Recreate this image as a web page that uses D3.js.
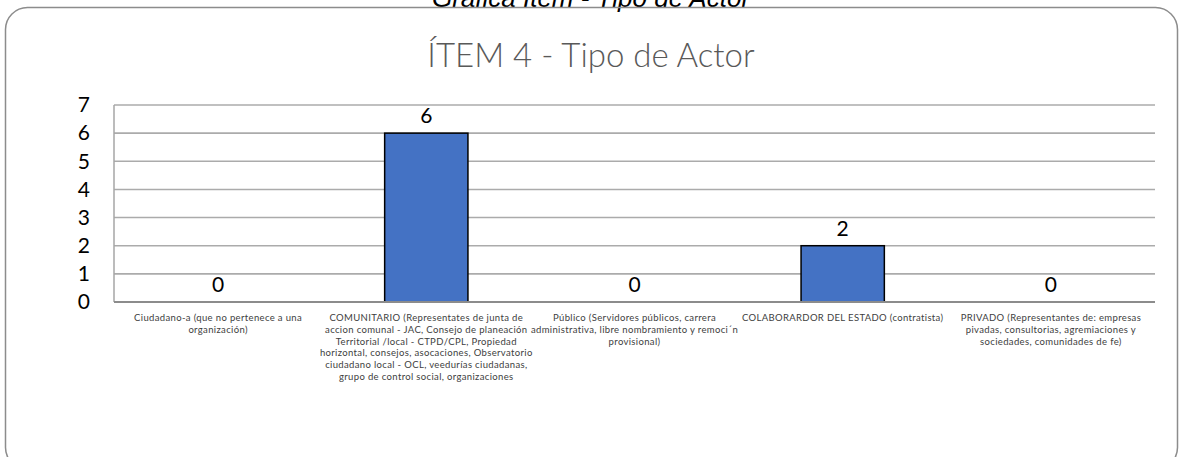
<!DOCTYPE html>
<html>
<head>
<meta charset="utf-8">
<script src="https://cdn.jsdelivr.net/npm/d3@7/dist/d3.min.js"></script>
<style>
  html, body { margin: 0; padding: 0; background: #fff; }
  svg { display: block; }
</style>
</head>
<body>
<script>
// Chart data
const categories = [
  "Ciudadano-a",
  "COMUNITARIO",
  "Público",
  "COLABORARDOR DEL ESTADO",
  "PRIVADO"
];
const categoryLabels = [
  ["Ciudadano-a (que no pertenece a una", "organización)"],
  ["COMUNITARIO (Representates de junta de", "accion comunal - JAC, Consejo de planeación",
   "Territorial /local - CTPD/CPL, Propiedad", "horizontal, consejos, asocaciones, Observatorio",
   "ciudadano local - OCL, veedurías ciudadanas,", "grupo de control social, organizaciones"],
  ["Público (Servidores públicos, carrera", "administrativa, libre nombramiento y remoci´n", "provisional)"],
  ["COLABORARDOR DEL ESTADO (contratista)"],
  ["PRIVADO (Representantes de: empresas", "pivadas, consultorias, agremiaciones y", "sociedades, comunidades de fe)"]
];
const values = [0, 6, 0, 2, 0];
const yTicks = [0, 1, 2, 3, 4, 5, 6, 7];
const chartTitle = "ÍTEM 4 - Tipo de Actor";
const captionText = "Gráfica Ítem - Tipo de Actor";

const W = 1183, H = 457;
const plot = { left: 114, right: 1155, top: 105, bottom: 302 };
const font = "Lato, 'Open Sans', sans-serif";

const svg = d3.select("body").append("svg")
  .attr("width", W).attr("height", H);

// Caption above the frame (runs off the top edge)
svg.append("text")
  .attr("x", 591).attr("y", 7)
  .attr("text-anchor", "middle")
  .attr("font-family", "'Liberation Sans', Arial, sans-serif")
  .attr("font-style", "italic")
  .attr("font-size", 26)
  .attr("fill", "#000")
  .text(captionText);

// Rounded chart frame
svg.append("rect")
  .attr("x", 5.5).attr("y", 7.5)
  .attr("width", 1172).attr("height", 462)
  .attr("rx", 22).attr("ry", 22)
  .attr("fill", "none")
  .attr("stroke", "#8c8c8c")
  .attr("stroke-width", 1.5);

// Title
svg.append("text")
  .attr("x", 591).attr("y", 67)
  .attr("text-anchor", "middle")
  .attr("font-family", font)
  .attr("font-weight", 300)
  .attr("font-size", 33)
  .attr("fill", "#595959")
  .text(chartTitle);

const x = d3.scaleBand()
  .domain(categories)
  .range([plot.left, plot.right])
  .paddingInner(0.6)
  .paddingOuter(0.3);

const y = d3.scaleLinear()
  .domain([0, 7])
  .range([plot.bottom, plot.top]);

// Horizontal gridlines
svg.append("g")
  .selectAll("line")
  .data(yTicks.filter(d => d > 0))
  .join("line")
  .attr("x1", plot.left).attr("x2", plot.right)
  .attr("y1", d => y(d)).attr("y2", d => y(d))
  .attr("stroke", "#ababab")
  .attr("stroke-width", 1.6);

// Vertical axis line
svg.append("line")
  .attr("x1", plot.left).attr("x2", plot.left)
  .attr("y1", y(7)).attr("y2", y(0))
  .attr("stroke", "#a6a6a6")
  .attr("stroke-width", 1.5);

// Y axis tick labels
const yAxis = svg.append("g")
  .attr("transform", `translate(${plot.left - 24},0)`)
  .call(d3.axisLeft(y).tickValues(yTicks).tickSize(0).tickPadding(0).tickFormat(d3.format("d")));
yAxis.select(".domain").remove();
yAxis.selectAll("text")
  .attr("font-family", font)
  .attr("font-size", 21)
  .attr("fill", "#000");

// Bars
svg.append("g")
  .selectAll("rect")
  .data(values)
  .join("rect")
  .attr("x", (d, i) => x(categories[i]))
  .attr("width", x.bandwidth())
  .attr("y", d => y(d))
  .attr("height", d => y(0) - y(d))
  .attr("fill", "#4472C4")
  .attr("stroke", d => d > 0 ? "#000" : "none")
  .attr("stroke-width", 1.5);

// Baseline axis
svg.append("line")
  .attr("x1", plot.left).attr("x2", plot.right)
  .attr("y1", y(0)).attr("y2", y(0))
  .attr("stroke", "#8c8c8c")
  .attr("stroke-width", 2);

// Value labels
svg.append("g")
  .selectAll("text")
  .data(values)
  .join("text")
  .attr("x", (d, i) => x(categories[i]) + x.bandwidth() / 2)
  .attr("y", d => y(d) - 10)
  .attr("text-anchor", "middle")
  .attr("font-family", font)
  .attr("font-size", 21)
  .attr("fill", "#000")
  .text(d => d);

// Category labels, wrapped
const catG = svg.append("g");
categoryLabels.forEach((lines, i) => {
  const cx = x(categories[i]) + x.bandwidth() / 2;
  const t = catG.append("text")
    .attr("x", cx)
    .attr("y", 321)
    .attr("text-anchor", "middle")
    .attr("font-family", font)
    .attr("font-size", 9.5)
    .attr("letter-spacing", 0.35)
    .attr("fill", "#404040");
  lines.forEach((ln, k) => {
    t.append("tspan")
      .attr("x", cx)
      .attr("dy", k === 0 ? 0 : 11.8)
      .text(ln);
  });
});
</script>
</body>
</html>
